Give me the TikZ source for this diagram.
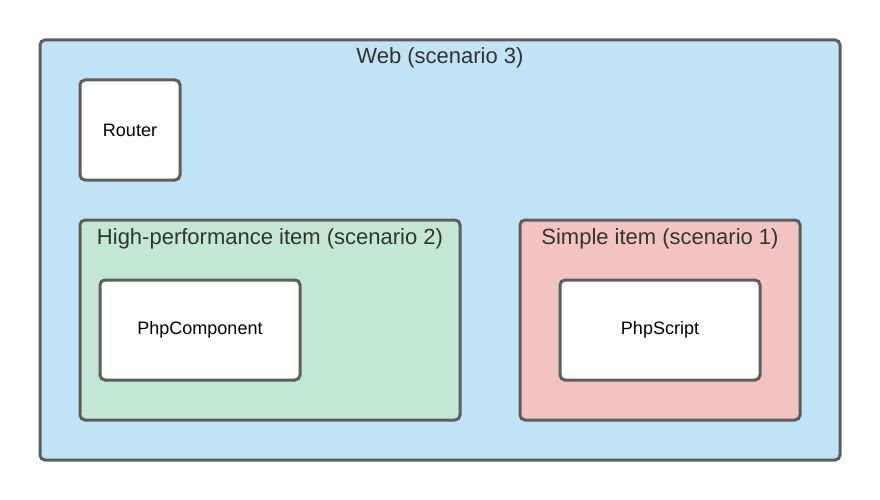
\documentclass[tikz,border=0pt]{standalone}
\usepackage{fontspec}
\setmainfont{Liberation Sans}
\definecolor{edge}{HTML}{5E5E5E}
\definecolor{webblue}{HTML}{C1E3F6}
\definecolor{hpgreen}{HTML}{C3E6D5}
\definecolor{simplered}{HTML}{F2C3C1}
\definecolor{txt}{HTML}{333333}
\begin{document}
\begin{tikzpicture}[x=1pt,y=-1pt,
  box/.style={draw=edge,line width=3pt,rounded corners=5pt},
  head/.style={font=\fontsize{22}{26}\selectfont,text=txt,inner sep=0pt},
  lbl/.style={font=\fontsize{18}{21}\selectfont,text=black,inner sep=0pt}]
\useasboundingbox[fill=white] (0,0) rectangle (880,500);
\draw[box,fill=webblue] (40,40) rectangle (840,460);
\node[head] (web) at (440,58) {Web (scenario 3)};
\draw[box,fill=white] (80,80) rectangle (180,180);
\node[lbl] (router) at (130,130) {Router};
\draw[box,fill=hpgreen] (80,220) rectangle (460,420);
\node[head] (hp) at (270,239) {High-performance item (scenario 2)};
\draw[box,fill=white] (100,280) rectangle (300,380);
\node[lbl] (pc) at (200,330) {PhpComponent};
\draw[box,fill=simplered] (520,220) rectangle (800,420);
\node[head] (si) at (660,239) {Simple item (scenario 1)};
\draw[box,fill=white] (560,280) rectangle (760,380);
\node[lbl] (ps) at (660,330) {PhpScript};
\end{tikzpicture}
\end{document}
